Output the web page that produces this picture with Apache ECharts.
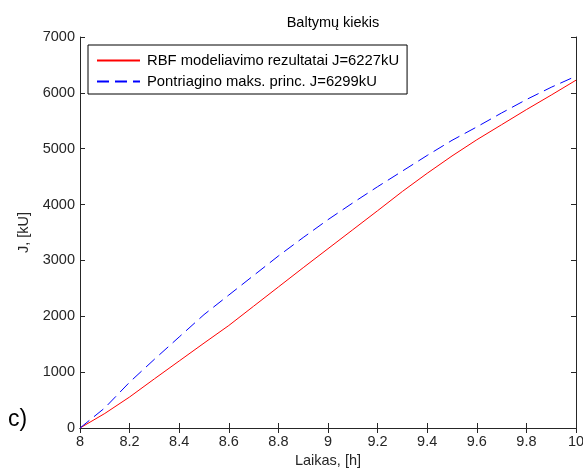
<!DOCTYPE html>
<html><head><meta charset="utf-8">
<script src="https://cdn.jsdelivr.net/npm/echarts@6/dist/echarts.min.js"></script>
<style>html,body{margin:0;padding:0;background:#fff}#c{width:583px;height:468px}</style>
</head><body><div id="c"></div>
<script>
const t = [8.0,8.1,8.2,8.3,8.4,8.5,8.6,8.7,8.8,8.9,9.0,9.1,9.2,9.3,9.4,9.5,9.6,9.7,9.8,9.9,10.0];
const rbf = [0,260,555,880,1200,1520,1835,2180,2525,2870,3210,3550,3890,4235,4560,4870,5160,5430,5700,5960,6227];
const pontr = [0,360,820,1230,1630,2030,2380,2730,3080,3410,3730,4030,4320,4600,4880,5150,5390,5640,5880,6100,6299];
const xTicks = [8,8.2,8.4,8.6,8.8,9,9.2,9.4,9.6,9.8,10];
const yTicks = [0,1000,2000,3000,4000,5000,6000,7000];
const names = ['RBF modeliavimo rezultatai J=6227kU','Pontriagino maks. princ. J=6299kU'];
const title = 'Baltymų kiekis', xName = 'Laikas, [h]', yName = 'J, [kU]', panel = 'c)';

const font = 'Liberation Sans, Arial, sans-serif';
const fs = 14.5;
const axCol = '#262626';
const chart = echarts.init(document.getElementById('c'));
const xBase = {type:'value', min:xTicks[0], max:xTicks[xTicks.length-1], interval:0.2,
  axisLine:{show:true,lineStyle:{color:axCol,width:1}},
  axisTick:{show:true,inside:true,length:5,lineStyle:{color:axCol}},
  splitLine:{show:false}};
const yBase = {type:'value', min:yTicks[0], max:yTicks[yTicks.length-1], interval:1000,
  axisLine:{show:true,lineStyle:{color:axCol,width:1}},
  axisTick:{show:true,inside:true,length:5,lineStyle:{color:axCol}},
  splitLine:{show:false}};
chart.setOption({
  animation:false,
  title:{text:title,left:328,textAlign:'center',top:10,textStyle:{fontFamily:font,fontSize:fs,fontWeight:'normal',color:'#000'}},
  grid:{left:80,right:7,top:37,bottom:40,containLabel:false,outerBoundsMode:'none'},
  legend:{orient:'vertical',left:88,top:45,padding:[8,8,5,8],itemGap:6,itemWidth:43,itemHeight:10,
    borderColor:'#000',borderWidth:1,backgroundColor:'#fff',
    itemStyle:{opacity:0},
    textStyle:{fontFamily:font,fontSize:14.8,color:'#000',padding:[0,0,0,2]},
    data:names},
  xAxis:[
    Object.assign({}, xBase, {position:'bottom',name:xName,nameLocation:'middle',nameGap:23,
      nameTextStyle:{fontFamily:font,fontSize:fs,color:axCol},
      axisLabel:{fontFamily:font,fontSize:fs,color:axCol,margin:6,formatter:v=>String(+v.toFixed(1))}}),
    Object.assign({}, xBase, {position:'top',axisLabel:{show:false}})
  ],
  yAxis:[
    Object.assign({}, yBase, {position:'left',name:yName,nameLocation:'middle',nameGap:46,
      nameTextStyle:{fontFamily:font,fontSize:fs,color:axCol},
      axisLabel:{fontFamily:font,fontSize:fs,color:axCol,margin:5,formatter:v=>String(v)}}),
    Object.assign({}, yBase, {position:'right',axisLabel:{show:false}})
  ],
  graphic:[{type:'text',left:8,top:408,style:{text:panel,font:'23px '+font,fill:'#000'}}],
  series:[
    {name:names[0],type:'line',showSymbol:false,symbol:'none',data:t.map((x,i)=>[x,rbf[i]]),
      lineStyle:{color:'#ff0000',width:1},itemStyle:{color:'#ff0000'}},
    {name:names[1],type:'line',showSymbol:false,symbol:'none',data:t.map((x,i)=>[x,pontr[i]]),
      lineStyle:{color:'#0000ff',width:1,type:[12,6]},itemStyle:{color:'#0000ff'}}
  ]
});
</script></body></html>
